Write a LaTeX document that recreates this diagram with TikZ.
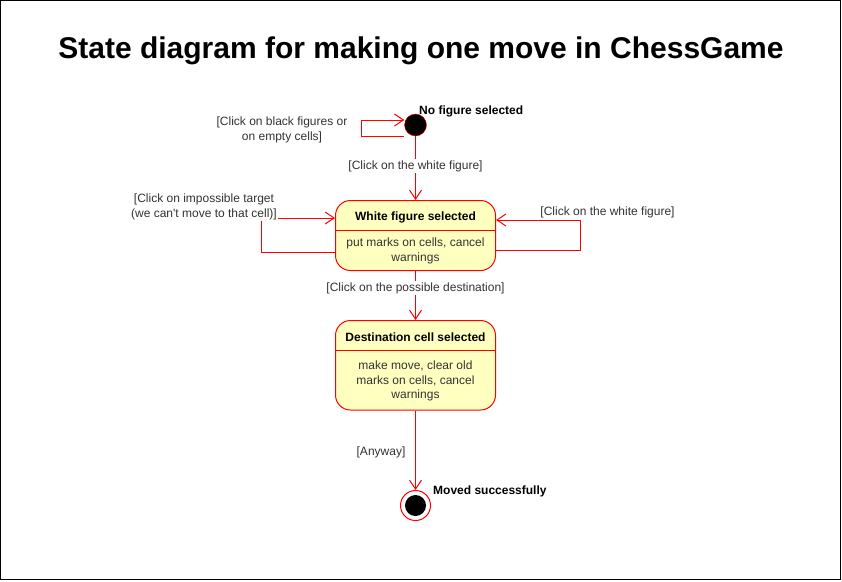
\documentclass[tikz,border=0pt]{standalone}
\usepackage{fontspec}
\setmainfont{Liberation Sans}
\usetikzlibrary{arrows.meta}
\definecolor{lred}{HTML}{FF0000}
\definecolor{stfill}{HTML}{FFFFC0}
\definecolor{lbl}{HTML}{333333}
\begin{document}
\begin{tikzpicture}[x=1pt, y=-1pt, font=\fontsize{12}{15}\selectfont, inner sep=0pt,
  tr/.style={draw=lred, line width=1pt, -{Straight Barb[length=9pt,width=12pt]}},
  state/.style={draw=lred, line width=1pt, fill=stfill, rounded corners=15pt, minimum width=160pt},
  lab/.style={text=lbl, align=center, fill=white, inner sep=1pt},
  hd/.style={font=\fontsize{12}{15}\selectfont\bfseries}]

\useasboundingbox (0,0) rectangle (842,581);
\draw[line width=1pt] (0.5,0.5) rectangle (840.5,579.5);

\node[font=\fontsize{30}{36}\selectfont\bfseries] (title) at (421,51) {State diagram for making one move in ChessGame};

\node[circle, draw=lred, fill=black, minimum size=22pt] (init) at (415.5,125) {};
\node[hd, anchor=west] (initl) at (419,111) {No figure selected};

\node[state, minimum height=70pt] (s1) at (415.5,235.5) {};
\node[hd] (s1t) at (415.5,217) {White figure selected};
\node[text=lbl, align=center, font=\fontsize{12}{15.5}\selectfont] (s1b) at (415.5,251) {put marks on cells, cancel\\warnings};
\draw[lred, line width=1pt] (s1.west |- 0,230.5) -- (s1.east |- 0,230.5);

\node[state, minimum height=89.5pt] (s2) at (415.5,365.25) {};
\node[hd] (s2t) at (415.5,337) {Destination cell selected};
\node[text=lbl, align=center, font=\fontsize{12}{14.5}\selectfont] (s2b) at (415.5,381) {make move, clear old\\marks on cells, cancel\\warnings};
\draw[lred, line width=1pt] (s2.west |- 0,350.5) -- (s2.east |- 0,350.5);

\node[circle, draw=lred, line width=1pt, fill=white, minimum size=30pt] (fin) at (415.5,505.5) {};
\node[circle, fill=black, minimum size=21pt] (finc) at (fin) {};
\node[hd, anchor=west] (finl) at (433,491) {Moved successfully};

\coordinate (il) at (361,120);
\coordinate (ll) at (261,218);
\coordinate (rl) at (580,220);

\draw[tr] (init.west |- 0,136) -| (il) |- (init.west |- il);
\draw[tr] (init) -- (s1);
\draw[tr] (s1.west |- 0,252) -| (ll) |- (s1.west |- ll);
\draw[tr] (s1.east |- 0,250) -| (rl) |- (s1.east |- rl);
\draw[tr] (s1) -- (s2);
\draw[tr] (s2) -- (fin);

\node[lab] (t0) at (282,129.5) {[Click on black figures or\\on empty cells]};
\node[lab] (t1) at (415.5,166) {[Click on the white figure]};
\node[lab] (t2) at (204,206.5) {[Click on impossible target\\(we can\textquotesingle t move to that cell)]};
\node[lab] (t3) at (607.5,212) {[Click on the white figure]};
\node[lab] (t4) at (415.5,288) {[Click on the possible destination]};
\node[lab] (t5) at (381,452) {[Anyway]};
\end{tikzpicture}
\end{document}
